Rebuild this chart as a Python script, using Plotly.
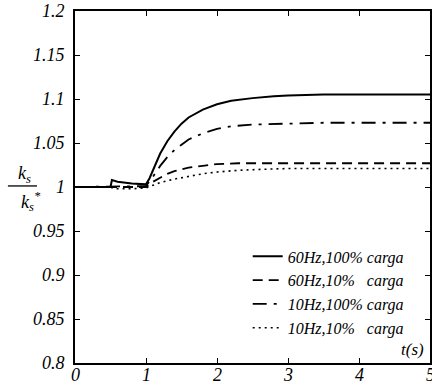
import plotly.graph_objects as go

# --- data ---
t_60_100 = [0, 0.5, 0.52, 0.6, 0.8, 1.0, 1.05, 1.1, 1.2, 1.3, 1.4, 1.5, 1.6, 1.8, 2.0, 2.2, 2.5, 2.8, 3.0, 3.5, 4.0, 5.0]
k_60_100 = [1, 1, 1.008, 1.006, 1.004, 1.003, 1.010, 1.020, 1.038, 1.052, 1.063, 1.072, 1.079, 1.088, 1.094, 1.098, 1.101, 1.103, 1.104, 1.105, 1.105, 1.105]

t_60_10 = [0, 1.0, 1.1, 1.2, 1.3, 1.4, 1.6, 1.8, 2.0, 2.3, 2.6, 3.0, 4.0, 5.0]
k_60_10 = [1, 1.0, 1.006, 1.011, 1.015, 1.018, 1.022, 1.024, 1.026, 1.027, 1.027, 1.027, 1.027, 1.027]

t_10_100 = [0, 1.0, 1.1, 1.2, 1.3, 1.4, 1.5, 1.6, 1.8, 2.0, 2.2, 2.5, 3.0, 3.5, 4.0, 5.0]
k_10_100 = [1, 1.001, 1.012, 1.024, 1.034, 1.042, 1.048, 1.054, 1.061, 1.066, 1.069, 1.071, 1.072, 1.073, 1.073, 1.073]

t_10_10 = [0, 0.5, 0.55, 0.8, 1.0, 1.1, 1.2, 1.4, 1.6, 1.8, 2.0, 2.3, 2.6, 3.0, 4.0, 5.0]
k_10_10 = [1, 1, 0.998, 0.998, 0.999, 1.002, 1.005, 1.009, 1.012, 1.015, 1.017, 1.019, 1.020, 1.021, 1.021, 1.021]

names = ["60Hz,100% carga", "60Hz,10%\u00a0\u00a0 carga", "10Hz,100% carga", "10Hz,10%\u00a0\u00a0 carga"]
x_ticks = [0, 1, 2, 3, 4, 5]
x_tick_text = ["0", "1", "2", "3", "4", "5"]
y_ticks = [0.8, 0.85, 0.9, 0.95, 1, 1.05, 1.1, 1.15, 1.2]
y_tick_text = ["0.8", "0.85", "0.9", "0.95", "1", "1.05", "1.1", "1.15", "1.2"]

SERIF = "Liberation Serif"
LABELFONT = dict(family=SERIF, size=18, color="black", style="italic")

fig = go.Figure()
fig.add_trace(go.Scatter(x=t_60_100, y=k_60_100, mode="lines", name=names[0],
                         line=dict(color="black", width=2, dash="solid")))
fig.add_trace(go.Scatter(x=t_60_10, y=k_60_10, mode="lines", name=names[1],
                         line=dict(color="black", width=1.8, dash="10px,6px")))
fig.add_trace(go.Scatter(x=t_10_100, y=k_10_100, mode="lines", name=names[2],
                         line=dict(color="black", width=1.8, dash="14px,7px,3px,7px")))
fig.add_trace(go.Scatter(x=t_10_10, y=k_10_10, mode="lines", name=names[3],
                         line=dict(color="black", width=1.6, dash="2px,4px")))

def axis(rng, vals):
    return dict(range=rng, tickvals=vals, tickmode="array", showticklabels=False,
                showline=True, linecolor="black", linewidth=1.5, mirror="ticks",
                ticks="inside", ticklen=5, tickcolor="black", tickwidth=1.2,
                showgrid=False, zeroline=False)

# tick labels drawn as italic serif text placed through the axes' own scales
annotations = []
for v, s in zip(y_ticks, y_tick_text):
    annotations.append(dict(text="<i>%s</i>" % s, xref="paper", yref="y", x=-0.022, y=v,
                            xanchor="right", yanchor="middle", showarrow=False, font=LABELFONT))
for v, s in zip(x_ticks, x_tick_text):
    annotations.append(dict(text="<i>%s</i>" % s, xref="x", yref="paper", x=v, y=-0.034,
                            xanchor="center", yanchor="middle", showarrow=False, font=LABELFONT))

annotations += [
    dict(text="<i>k<sub>s</sub></i>", xref="paper", yref="paper", x=-0.165, y=0.536,
         showarrow=False, font=LABELFONT),
    dict(text="<i>k<sub>s</sub><sup>*</sup></i>", xref="paper", yref="paper", x=-0.158, y=0.46,
         showarrow=False, font=LABELFONT),
    dict(text="<i>t(s)</i>", xref="paper", yref="paper", x=0.99, y=0.037, xanchor="right",
         yanchor="middle", showarrow=False,
         font=dict(family=SERIF, size=17, color="black", style="italic")),
]

fig.update_layout(
    width=432, height=387,
    margin=dict(l=75, r=2, t=11, b=24, autoexpand=False),
    font=dict(family=SERIF, size=16, color="black"),
    paper_bgcolor="white", plot_bgcolor="white",
    xaxis=axis([0, 5], x_ticks),
    yaxis=axis([0.8, 1.2], y_ticks),
    showlegend=True,
    legend=dict(x=0.94, y=0.05, xanchor="right", yanchor="bottom",
                bgcolor="rgba(0,0,0,0)", borderwidth=0,
                font=dict(family=SERIF, size=16, color="black", style="italic"),
                itemwidth=30, tracegroupgap=0),
    annotations=annotations,
    shapes=[
        dict(type="line", xref="paper", yref="paper", x0=-0.189, x1=-0.107, y0=0.503, y1=0.503,
             line=dict(color="black", width=1.3)),
    ],
)

fig.write_html("out.html", config={"displayModeBar": False},
               post_script="document.body.style.margin='0';")
